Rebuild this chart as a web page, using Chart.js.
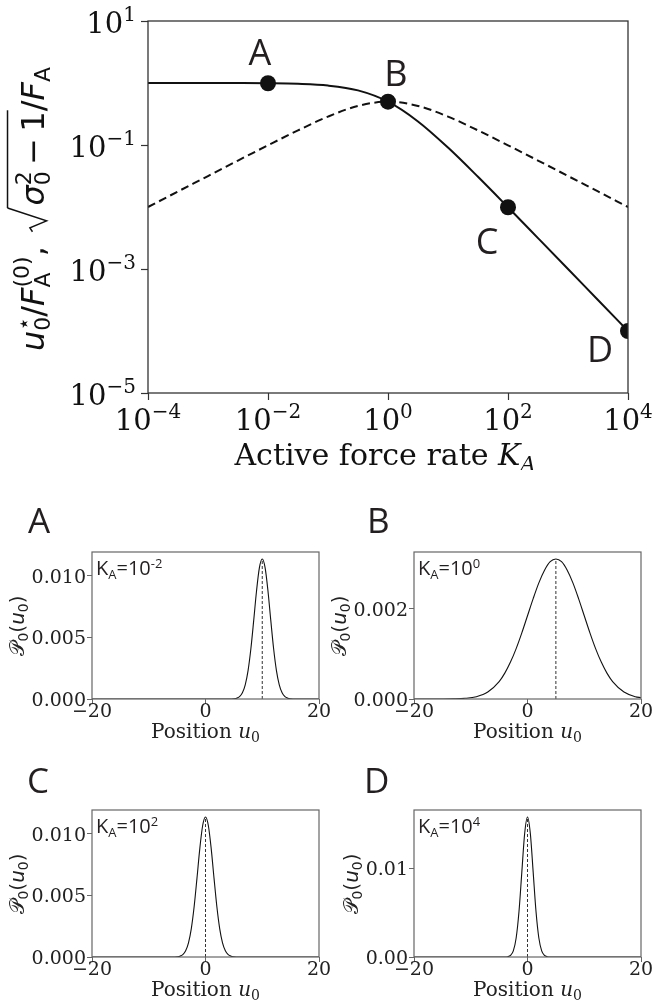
<!DOCTYPE html>
<html>
<head>
<meta charset="utf-8">
<title>Active force rate</title>
<script src="https://cdn.jsdelivr.net/npm/chart.js@4.4.1/dist/chart.umd.min.js"></script>
<style>
  body { margin: 0; background: #fff; }
  #fig { position: relative; width: 654px; height: 1006px; overflow: hidden; }
  #fig canvas { position: absolute; }
</style>
</head>
<body>
<div id="fig">
  <canvas id="rateChart" width="654" height="470" style="left:0;top:0"></canvas>
  <canvas id="panelA" width="360" height="260" style="left:0;top:490px"></canvas>
  <canvas id="panelB" width="327" height="260" style="left:327px;top:490px"></canvas>
  <canvas id="panelC" width="360" height="256" style="left:0;top:750px"></canvas>
  <canvas id="panelD" width="327" height="256" style="left:327px;top:750px"></canvas>
</div>
<script>
// K_A sweep, half a decade apart
const rates = [0.0001, 0.000316, 0.001, 0.00316, 0.01, 0.0316, 0.1, 0.316, 1, 3.16, 10, 31.6, 100, 316, 1000, 3160, 10000];
// u0*/F_A(0) (solid)
const meanShift = [1.0, 1.0, 0.999, 0.997, 0.990, 0.969, 0.909, 0.760, 0.500, 0.240, 0.0909, 0.0307, 0.0099, 0.00315, 0.000999, 0.000316, 0.0001];
// sqrt(sigma0^2 - 1)/F_A (dashed)
const spread = [0.0100, 0.0178, 0.0316, 0.0562, 0.0990, 0.172, 0.287, 0.427, 0.500, 0.427, 0.287, 0.172, 0.0990, 0.0562, 0.0316, 0.0178, 0.0100];

const markNames = ['A', 'B', 'C', 'D'];
const markRates = [0.01, 1, 100, 10000];
const markShift = [0.990, 0.500, 0.0099, 0.0001];

const rateTicks = [1e-4, 1e-2, 1, 1e2, 1e4];
const rateTickPowers = ['−4', '−2', '0', '2', '4'];
const shiftTicks = [10, 0.1, 0.001, 0.00001];
const shiftTickPowers = ['1', '−1', '−3', '−5'];

// P0(u0) at the four marked rates
const posA = [-20, 4, 5, 5.5, 6, 6.5, 7, 7.5, 8, 8.5, 9, 9.5, 10, 10.5, 11, 11.5, 12, 12.5, 13, 13.5, 14, 14.5, 15, 16, 20];
const densA = [0, 0.0000012, 0.0000193, 0.0000649, 0.000192, 0.000500, 0.00115, 0.00231, 0.00410, 0.00641, 0.00882, 0.01068, 0.01138,
  0.01068, 0.00882, 0.00641, 0.00410, 0.00231, 0.00115, 0.000500, 0.000192, 0.0000649, 0.0000193, 0.0000012, 0];

const posB = [-20, -16, -13, -11, -9, -7, -5, -4, -3, -2, -1, 0, 1, 2, 3, 4, 5, 6, 7, 8, 9, 10, 11, 12, 13, 14, 15, 17, 19, 20];
const densB = [0, 0.0000003, 0.0000036, 0.000015, 0.000052, 0.000155, 0.000387, 0.000575, 0.00082, 0.00112, 0.00147, 0.00185, 0.00223,
  0.00258, 0.00286, 0.00305, 0.00311, 0.00305, 0.00286, 0.00258, 0.00223, 0.00185, 0.00147, 0.00112, 0.00082, 0.000575, 0.000387,
  0.000155, 0.000052, 0.000029];

const posC = [-20, -6, -5, -4.5, -4, -3.5, -3, -2.5, -2, -1.5, -1, -0.5, 0, 0.5, 1, 1.5, 2, 2.5, 3, 3.5, 4, 4.5, 5, 6, 20];
const densC = [0, 0.0000012, 0.0000193, 0.0000649, 0.000192, 0.000500, 0.00115, 0.00231, 0.00410, 0.00641, 0.00882, 0.01068, 0.01137,
  0.01068, 0.00882, 0.00641, 0.00410, 0.00231, 0.00115, 0.000500, 0.000192, 0.0000649, 0.0000193, 0.0000012, 0];

const posD = [-20, -5, -4, -3.5, -3, -2.5, -2, -1.5, -1, -0.5, 0, 0.5, 1, 1.5, 2, 2.5, 3, 3.5, 4, 5, 20];
const densD = [0, 0, 0.0000053, 0.0000346, 0.000175, 0.000694, 0.00214, 0.00513, 0.00958, 0.01394, 0.0158,
  0.01394, 0.00958, 0.00513, 0.00214, 0.000694, 0.000175, 0.0000346, 0.0000053, 0, 0];

const panelCenters = [10, 5, 0, 0];
const panelRatePowers = ['-2', '0', '2', '4'];

const posTicks = [-20, 0, 20];
const posTickLabels = ['−20', '0', '20'];
const densTicksA = [0, 0.005, 0.010];
const densLabelsA = ['0.000', '0.005', '0.010'];
const densTicksB = [0, 0.002];
const densLabelsB = ['0.000', '0.002'];
const densTicksC = [0, 0.005, 0.010];
const densLabelsC = ['0.000', '0.005', '0.010'];
const densTicksD = [0, 0.01];
const densLabelsD = ['0.00', '0.01'];

const INK = '#111';
const FRAME = '#333';
const PANEL_FRAME = '#666';
const SERIF = '"DejaVu Serif", serif';
const SANS = '"DejaVu Sans", sans-serif';
const LETTER = '"Open Sans", sans-serif';

function font(px, family, italic) {
  return (italic ? 'italic ' : '') + px + 'px ' + family;
}

function textWidth(ctx, t, f) {
  ctx.font = f;
  return ctx.measureText(t).width;
}

// a run is a row of text pieces on one baseline (sub/superscripts via dy)
function runWidth(ctx, run) {
  let w = 0;
  for (const p of run) {
    if (p.gap) w += p.gap;
    else if (p.root) w += p.root;
    else if (p.stack) w += Math.max(...p.stack.map(q => textWidth(ctx, q.t, q.font)));
    else if (p.t) w += textWidth(ctx, p.t, p.font);
  }
  return w;
}

function drawRun(ctx, run, x, y, align, color) {
  const w = runWidth(ctx, run);
  let cx = align === 'center' ? x - w / 2 : align === 'right' ? x - w : x;
  let bar = null;
  ctx.fillStyle = color || INK;
  ctx.strokeStyle = color || INK;
  ctx.textAlign = 'left';
  ctx.textBaseline = 'alphabetic';
  for (const p of run) {
    if (p.gap) {
      cx += p.gap;
    } else if (p.root) {
      // radical sign, its bar is closed by an endRoot piece
      const s = p.size;
      ctx.lineWidth = 1.5;
      ctx.beginPath();
      ctx.moveTo(cx, y - 0.36 * s);
      ctx.lineTo(cx + 0.12 * s, y - 0.44 * s);
      ctx.lineTo(cx + 0.34 * s, y + 0.08 * s);
      ctx.lineTo(cx + 0.74 * s, y - 1.14 * s);
      ctx.stroke();
      bar = { x: cx + 0.74 * s, y: y - 1.14 * s };
      cx += p.root;
    } else if (p.endRoot) {
      ctx.beginPath();
      ctx.moveTo(bar.x, bar.y);
      ctx.lineTo(cx + 1, bar.y);
      ctx.stroke();
    } else if (p.stack) {
      let adv = 0;
      for (const q of p.stack) {
        ctx.font = q.font;
        ctx.fillText(q.t, cx, y + q.dy);
        adv = Math.max(adv, ctx.measureText(q.t).width);
      }
      cx += adv;
    } else {
      ctx.font = p.font;
      ctx.fillText(p.t, cx, y + (p.dy || 0));
      cx += ctx.measureText(p.t).width;
    }
  }
}

function powerRun(p) {
  return [{ t: '10', font: font(29, SERIF) }, { t: p, font: font(20, SERIF), dy: -12 }];
}

const S = 32, s = 22;
const rateYTitle = [
  { t: 'u', font: font(S, SANS, true) },
  { stack: [{ t: '⋆', font: font(s, SANS), dy: -0.42 * S }, { t: '0', font: font(s, SANS), dy: 0.2 * S }] },
  { t: '/', font: font(S, SANS) },
  { t: 'F', font: font(S, SANS, true) },
  { stack: [{ t: '(0)', font: font(s, SANS), dy: -0.48 * S }, { t: 'A', font: font(s, SANS), dy: 0.2 * S }] },
  { t: ',', font: font(S, SANS) },
  { gap: 0.45 * S },
  { root: 0.82 * S, size: S },
  { t: 'σ', font: font(S, SANS, true) },
  { stack: [{ t: '2', font: font(s, SANS), dy: -0.42 * S }, { t: '0', font: font(s, SANS), dy: 0.2 * S }] },
  { gap: 0.2 * S },
  { t: '−', font: font(S, SANS) },
  { gap: 0.2 * S },
  { t: '1', font: font(S, SANS) },
  { endRoot: true },
  { t: '/', font: font(S, SANS) },
  { t: 'F', font: font(S, SANS, true) },
  { t: 'A', font: font(s, SANS), dy: 0.2 * S }
];

const rateXTitle = [
  { t: 'Active force rate ', font: font(30, SERIF) },
  { t: 'K', font: font(30, SERIF, true) },
  { t: 'A', font: font(21, SERIF, true), dy: 6 }
];

// letter placement next to each marker, in pixels
const markOffsets = [[-8, -18], [8, -16], [-21, 47], [-28, 31]];

function frame(ctx, a, color, lw) {
  ctx.strokeStyle = color;
  ctx.lineWidth = lw;
  ctx.strokeRect(a.left, a.top, a.right - a.left, a.bottom - a.top);
}

function tickGrid(color, len, width) {
  return { drawOnChartArea: false, drawTicks: true, tickLength: len, tickWidth: width, tickColor: color };
}

const rateDecor = {
  id: 'rateDecor',
  afterDraw(chart) {
    const { ctx, chartArea: a, scales: { x, y } } = chart;
    ctx.save();
    frame(ctx, a, FRAME, 1.3);
    rateTicks.forEach((v, i) => drawRun(ctx, powerRun(rateTickPowers[i]), x.getPixelForValue(v), a.bottom + 37, 'center'));
    shiftTicks.forEach((v, i) => drawRun(ctx, powerRun(shiftTickPowers[i]), a.left - 12, y.getPixelForValue(v) + 12, 'right'));
    drawRun(ctx, rateXTitle, (a.left + a.right) / 2 - 3, a.bottom + 72, 'center');

    ctx.save();
    ctx.translate(44, (a.top + a.bottom) / 2 + 2);
    ctx.rotate(-Math.PI / 2);
    drawRun(ctx, rateYTitle, 0, 0, 'center');
    ctx.restore();

    ctx.font = font(36, LETTER);
    ctx.fillStyle = '#231f20';
    ctx.textAlign = 'center';
    markNames.forEach((n, i) => {
      const px = x.getPixelForValue(markRates[i]);
      const py = y.getPixelForValue(markShift[i]);
      ctx.fillText(n, px + markOffsets[i][0], py + markOffsets[i][1]);
    });
    ctx.restore();
  }
};

new Chart(document.getElementById('rateChart'), {
  type: 'line',
  data: {
    datasets: [
      {
        data: markRates.map((k, i) => ({ x: k, y: markShift[i] })),
        showLine: false, pointRadius: 8, pointHoverRadius: 8,
        pointBackgroundColor: INK, pointBorderWidth: 0
      },
      {
        data: rates.map((k, i) => ({ x: k, y: meanShift[i] })),
        borderColor: INK, borderWidth: 2, pointRadius: 0, cubicInterpolationMode: 'monotone'
      },
      {
        data: rates.map((k, i) => ({ x: k, y: spread[i] })),
        borderColor: INK, borderWidth: 2, borderDash: [8, 4.5], pointRadius: 0, cubicInterpolationMode: 'monotone'
      }
    ]
  },
  options: {
    responsive: false,
    animation: false,
    events: [],
    layout: { padding: { top: 21, right: 26, left: 0, bottom: 0 } },
    plugins: { legend: { display: false }, tooltip: { enabled: false } },
    scales: {
      x: {
        type: 'logarithmic', min: 1e-4, max: 1e4,
        afterBuildTicks: sc => { sc.ticks = rateTicks.map(v => ({ value: v })); },
        afterFit: sc => { sc.height = 77; },
        ticks: { display: false },
        grid: tickGrid(FRAME, 7, 1.2),
        border: { display: false }
      },
      y: {
        type: 'logarithmic', min: 1e-5, max: 10,
        afterBuildTicks: sc => { sc.ticks = shiftTicks.map(v => ({ value: v })); },
        afterFit: sc => { sc.width = 148; },
        ticks: { display: false },
        grid: tickGrid(FRAME, 7, 1.2),
        border: { display: false }
      }
    }
  },
  plugins: [rateDecor]
});

const panelDecor = {
  id: 'panelDecor',
  afterDraw(chart, args, o) {
    const { ctx, chartArea: a, scales: { x, y } } = chart;
    ctx.save();
    frame(ctx, a, PANEL_FRAME, 1.2);

    const tickFont = font(19, SERIF);
    posTicks.forEach((v, i) => drawRun(ctx, [{ t: posTickLabels[i], font: tickFont }], x.getPixelForValue(v), a.bottom + 18, 'center', '#222'));
    let widest = 0;
    o.yTicks.forEach((v, i) => {
      widest = Math.max(widest, textWidth(ctx, o.yLabels[i], tickFont));
      drawRun(ctx, [{ t: o.yLabels[i], font: tickFont }], a.left - 6, y.getPixelForValue(v) + 7, 'right', '#222');
    });

    drawRun(ctx, [
      { t: 'Position ', font: font(20, SERIF) },
      { t: 'u', font: font(20, SERIF, true) },
      { t: '0', font: font(14, SERIF), dy: 4 }
    ], (a.left + a.right) / 2, a.bottom + 39, 'center', '#222');

    ctx.save();
    ctx.translate(a.left - widest - 14, (a.top + a.bottom) / 2);
    ctx.rotate(-Math.PI / 2);
    drawRun(ctx, [
      { t: '𝒫', font: font(20, SANS) },
      { t: '0', font: font(14, SANS), dy: 4 },
      { t: '(', font: font(20, SANS) },
      { t: 'u', font: font(20, SANS, true) },
      { t: '0', font: font(14, SANS), dy: 4 },
      { t: ')', font: font(20, SANS) }
    ], 0, 0, 'center', '#222');
    ctx.restore();

    drawRun(ctx, [
      { t: 'K', font: font(20, LETTER) },
      { t: 'A', font: font(13, LETTER), dy: 4 },
      { t: '=10', font: font(20, LETTER) },
      { t: o.power, font: font(13, LETTER), dy: -7 }
    ], a.left + 4, a.top + 23, 'left', '#231f20');

    ctx.font = font(35, LETTER);
    ctx.fillStyle = '#231f20';
    ctx.textAlign = 'left';
    ctx.fillText(o.letter, o.letterX, 43);
    ctx.restore();
  }
};

function makePanel(id, idx, pos, dens, yTicks, yLabels, box) {
  const peak = Math.max(...dens);
  const center = panelCenters[idx];
  new Chart(document.getElementById(id), {
    type: 'line',
    data: {
      datasets: [
        {
          data: pos.map((u, i) => ({ x: u, y: dens[i] })),
          borderColor: INK, borderWidth: 1.1, pointRadius: 0, cubicInterpolationMode: 'monotone'
        },
        {
          data: [{ x: center, y: 0 }, { x: center, y: peak }],
          borderColor: '#333', borderWidth: 1, borderDash: [3, 2], pointRadius: 0
        }
      ]
    },
    options: {
      responsive: false,
      animation: false,
      events: [],
      layout: { padding: { top: box.top, right: box.right, left: 0, bottom: 0 } },
      plugins: {
        legend: { display: false },
        tooltip: { enabled: false },
        panelDecor: { letter: markNames[idx], power: panelRatePowers[idx], yTicks, yLabels, letterX: box.letterX }
      },
      scales: {
        x: {
          type: 'linear', min: -20, max: 20,
          afterBuildTicks: sc => { sc.ticks = posTicks.map(v => ({ value: v })); },
          afterFit: sc => { sc.height = box.xh; },
          ticks: { display: false },
          grid: tickGrid(PANEL_FRAME, 5, 1),
          border: { display: false }
        },
        y: {
          type: 'linear', min: 0, max: peak * 1.05,
          afterBuildTicks: sc => { sc.ticks = yTicks.map(v => ({ value: v })); },
          afterFit: sc => { sc.width = box.yw; },
          ticks: { display: false },
          grid: tickGrid(PANEL_FRAME, 5, 1),
          border: { display: false }
        }
      }
    },
    plugins: [panelDecor]
  });
}

makePanel('panelA', 0, posA, densA, densTicksA, densLabelsA, { top: 62, right: 41, xh: 51, yw: 92, letterX: 28 });
makePanel('panelB', 1, posB, densB, densTicksB, densLabelsB, { top: 62, right: 13, xh: 51, yw: 87, letterX: 40 });
makePanel('panelC', 2, posC, densC, densTicksC, densLabelsC, { top: 60, right: 41, xh: 49, yw: 92, letterX: 27 });
makePanel('panelD', 3, posD, densD, densTicksD, densLabelsD, { top: 60, right: 13, xh: 49, yw: 87, letterX: 37 });
</script>
</body>
</html>
